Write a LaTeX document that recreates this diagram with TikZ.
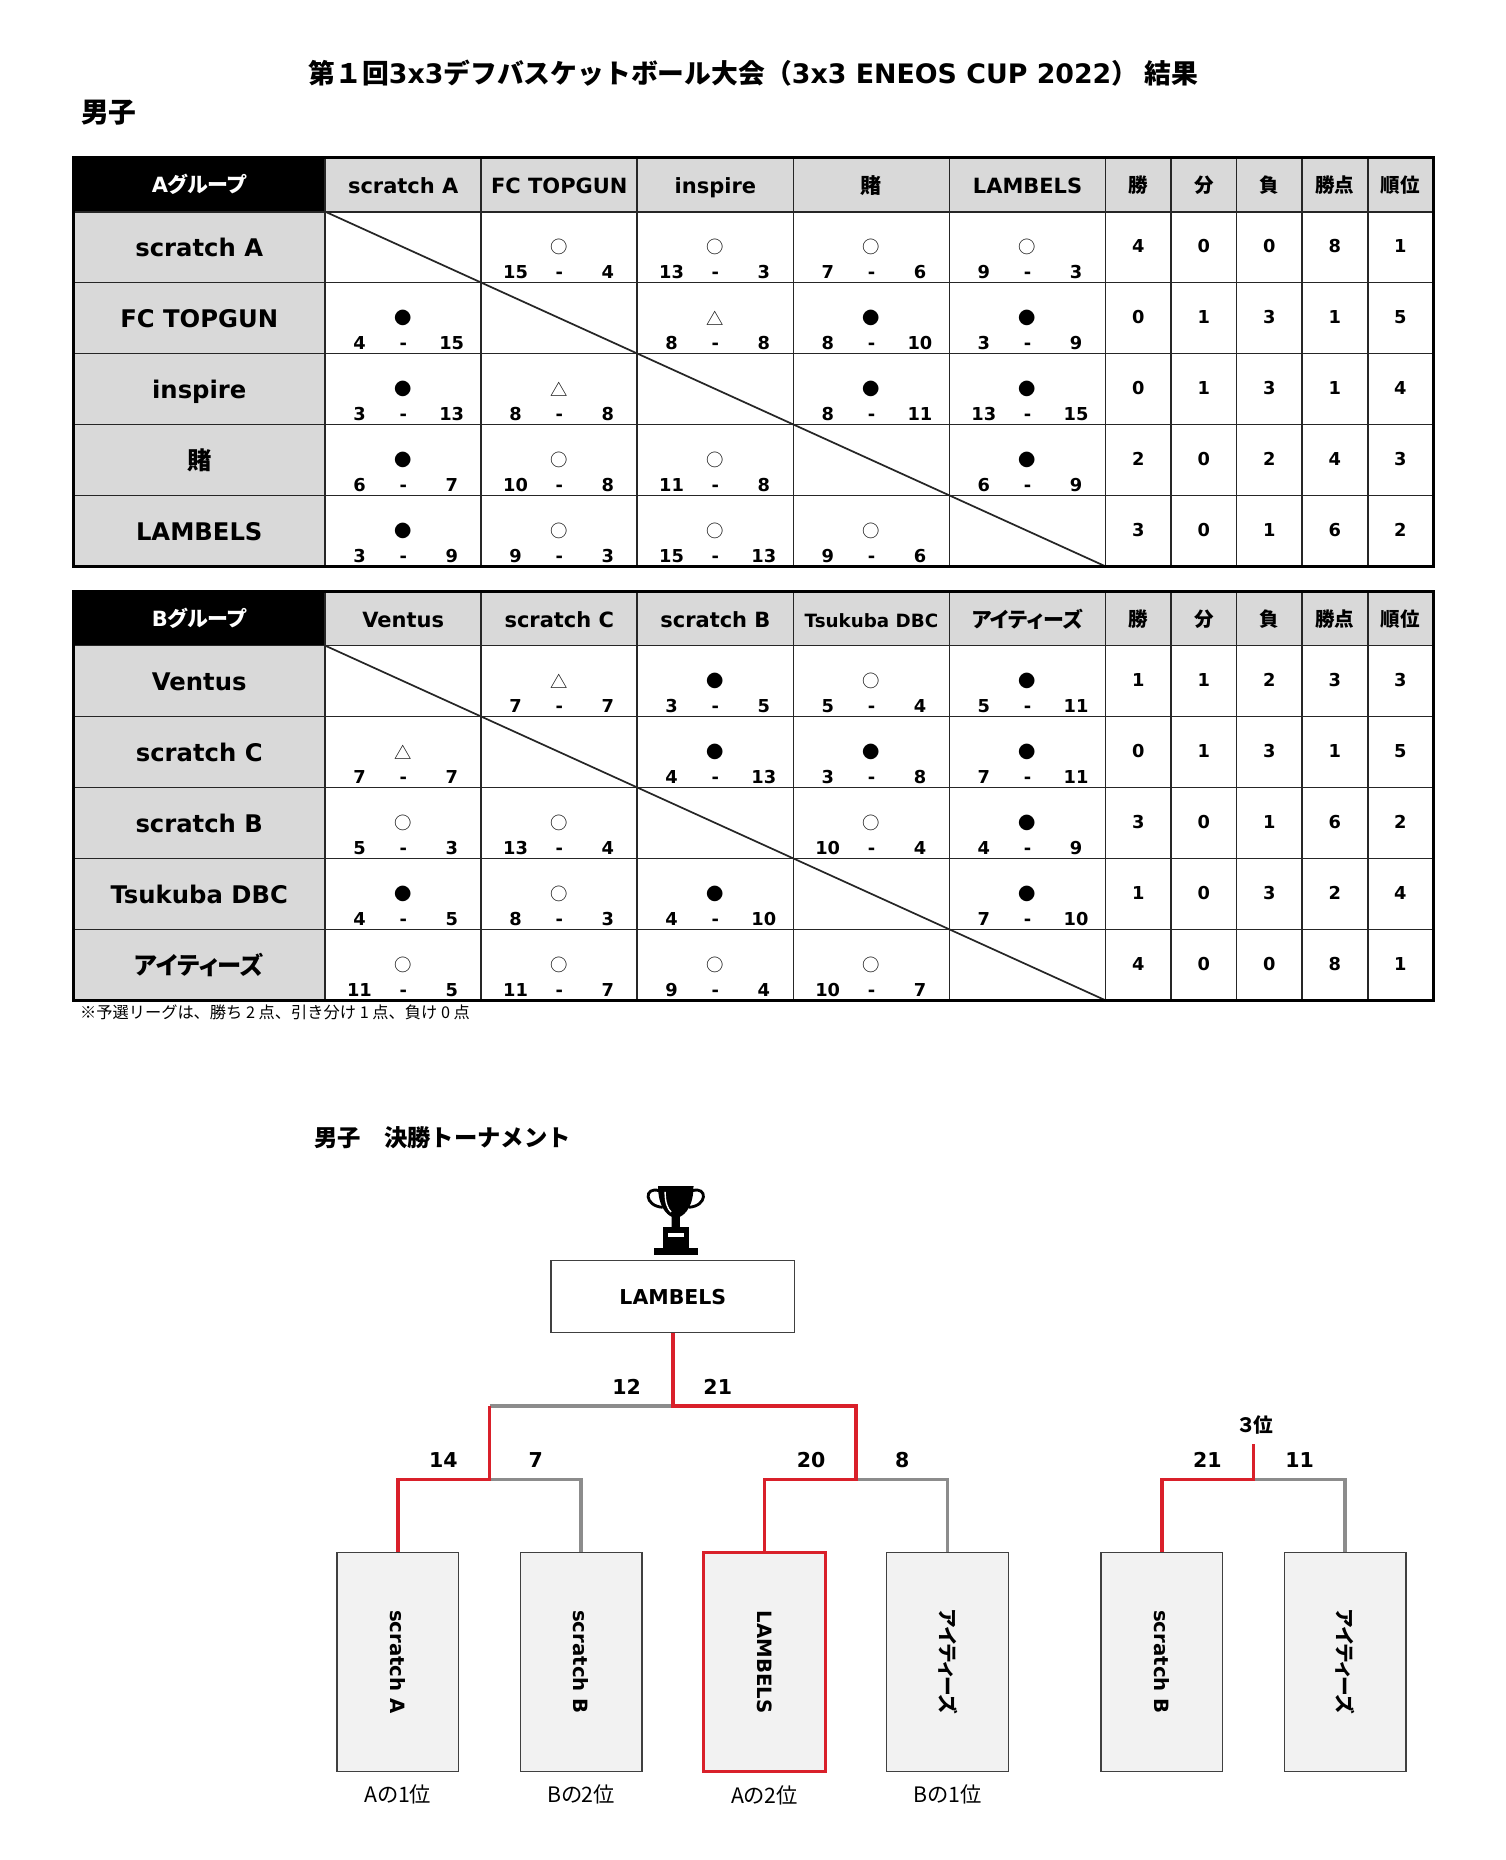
\documentclass[tikz,border=0pt]{standalone}
\usepackage{fontspec}
\setmainfont{DejaVu Sans}
\newfontfamily\jp{Noto Sans CJK JP}[RawFeature=+palt]
\newfontfamily\jpf{Noto Sans CJK JP}
\usetikzlibrary{positioning}
\definecolor{cellgray}{HTML}{D9D9D9}
\definecolor{boxgray}{HTML}{F2F2F2}
\definecolor{winred}{HTML}{D9202A}
\definecolor{losegray}{HTML}{8C8C8C}
\definecolor{framegray}{HTML}{404040}
\tikzset{
  teamname/.style={font=\bfseries\fontsize{15.4}{16}\selectfont, text height=0.73em, text depth=0pt},
  headname/.style={font=\bfseries\fontsize{13.3}{14}\selectfont, text height=0.73em, text depth=0pt},
  statname/.style={font=\jp\bfseries\fontsize{12.4}{13}\selectfont},
  scorenum/.style={font=\bfseries\fontsize{11.3}{12}\selectfont, text height=0.73em, text depth=0pt},
  resmark/.style={font=\jp\fontsize{11}{12}\selectfont},
  gridline/.style={draw=black!85, line width=1.1pt},
  frameline/.style={draw=black, line width=2pt},
  qbox/.style={draw=framegray, fill=boxgray, line width=0.8pt, minimum width=77.25pt,
    minimum height=138.75pt, inner sep=0pt, font=\bfseries\fontsize{12.5}{13}\selectfont},
  winline/.style={draw=winred, line width=2.2pt},
  loseline/.style={draw=losegray, line width=2.2pt},
  ptlabel/.style={font=\bfseries\fontsize{13}{13}\selectfont},
  seedlabel/.style={font=\jp\fontsize{13.5}{14}\selectfont, inner sep=1pt},
}

\begin{document}
\begin{tikzpicture}[x=0.75pt, y=-0.75pt]
\useasboundingbox (0,0) rectangle (1273,1573);

\node[font=\bfseries\fontsize{17}{17}\selectfont] (title) at (637,62)
  {{\jpf 第１回}3x3{\jpf デフバスケットボール大会（}3x3 ENEOS CUP 2022{\jpf ） 結果}};
\node[anchor=west, font=\jpf\bfseries\fontsize{17.6}{18}\selectfont] (men) at (64,95) {男子};

% league tables
\foreach \t in {133,500} {
  \fill[cellgray] (62,\t) rectangle (1212,{\t+346});
  \fill[white] (275,{\t+46}) rectangle (1212,{\t+346});
  \fill[black] (62,\t) rectangle (275,{\t+46});
  \foreach \x in {275,407,539,671,803,935,990.4,1045.8,1101.2,1156.6}
    \draw[gridline] (\x,\t) -- (\x,{\t+346});
  \foreach \i in {0,...,4}
    \draw[gridline] (62,{\t+46+60*\i}) -- (1212,{\t+46+60*\i});
  \draw[gridline] (275,{\t+46}) -- (935,{\t+346});
  \draw[frameline] (62,\t) rectangle (1212,{\t+346});
}

\foreach \g/\t/\heads/\names in {
  A/133/{scratch A,FC TOPGUN,inspire,\jp 賭,LAMBELS}/{scratch A,FC TOPGUN,inspire,\jp 賭,LAMBELS},
  B/500/{Ventus,scratch C,scratch B,\fontsize{11.6}{12}\selectfont Tsukuba DBC,\jp アイティーズ}/{Ventus,scratch C,scratch B,Tsukuba DBC,\jp アイティーズ}} {
  \node[headname, text=white] (\g-grp) at (168.5,{\t+25}) {\g{\jp グループ}};
  \foreach \n [count=\i] in \heads
    \node[headname] (\g-h\i) at ({209+132*\i},{\t+25.5}) {\n};
  \foreach \n [count=\i] in \names
    \node[teamname] (\g-n\i) at (168.5,{\t+19+60*\i}) {\n};
  \foreach \s [count=\k] in {勝,分,負,勝点,順位}
    \node[statname] (\g-s\k) at ({907.3+55.4*\k},{\t+23.5}) {\s};
}

% match results
\foreach \g/\t/\cells in {
  A/179/{1/2/○/15/4,1/3/○/13/3,1/4/○/7/6,1/5/○/9/3,
         2/1/●/4/15,2/3/△/8/8,2/4/●/8/10,2/5/●/3/9,
         3/1/●/3/13,3/2/△/8/8,3/4/●/8/11,3/5/●/13/15,
         4/1/●/6/7,4/2/○/10/8,4/3/○/11/8,4/5/●/6/9,
         5/1/●/3/9,5/2/○/9/3,5/3/○/15/13,5/4/○/9/6},
  B/546/{1/2/△/7/7,1/3/●/3/5,1/4/○/5/4,1/5/●/5/11,
         2/1/△/7/7,2/3/●/4/13,2/4/●/3/8,2/5/●/7/11,
         3/1/○/5/3,3/2/○/13/4,3/4/○/10/4,3/5/●/4/9,
         4/1/●/4/5,4/2/○/8/3,4/3/●/4/10,4/5/●/7/10,
         5/1/○/11/5,5/2/○/11/7,5/3/○/9/4,5/4/○/10/7}} {
  \foreach \ro/\co/\sy/\sa/\sb in \cells {
    \node[resmark] (\g-\ro-\co-m) at ({209+132*\co},{\t-30+60*\ro}) {\sy};
    \node[scorenum] (\g-\ro-\co-l) at ({172+132*\co},{\t-8+60*\ro}) {\sa};
    \node[scorenum] (\g-\ro-\co-d) at ({209+132*\co},{\t-8+60*\ro}) {-};
    \node[scorenum] (\g-\ro-\co-r) at ({250+132*\co},{\t-8+60*\ro}) {\sb};
  }
}

% standings
\foreach \g/\t/\rows in {
  A/179/{{4,0,0,8,1},{0,1,3,1,5},{0,1,3,1,4},{2,0,2,4,3},{3,0,1,6,2}},
  B/546/{{1,1,2,3,3},{0,1,3,1,5},{3,0,1,6,2},{1,0,3,2,4},{4,0,0,8,1}}} {
  \foreach \vals [count=\ro] in \rows
    \foreach \v [count=\k] in \vals
      \node[scorenum] (\g-\ro-st\k) at ({907.3+55.4*\k},{\t-30+60*\ro}) {\v};
}

\node[anchor=west, font=\jpf\fontsize{10.3}{11}\selectfont] (note) at (63,856)
  {※予選リーグは、勝ち 2 点、引き分け 1 点、負け 0 点};

% final tournament
\node[anchor=west, font=\jpf\bfseries\fontsize{14.8}{15}\selectfont] (ttl2) at (261,962) {男子　決勝トーナメント};

\begin{scope}[shift={(571.5,1032)}]
  \fill (-15,-29) -- (15,-29) .. controls (15,-12) and (8,-5) .. (3.5,-3) -- (3.5,6)
    -- (-3.5,6) -- (-3.5,-3) .. controls (-8,-5) and (-15,-12) .. cycle;
  \draw[line width=1.8pt] (-14,-25) .. controls (-27,-29) and (-27,-12) .. (-11,-11);
  \draw[line width=1.8pt] (14,-25) .. controls (27,-29) and (27,-12) .. (11,-11);
  \draw[white, line width=0.9pt] (-9,-24) .. controls (-9,-15) and (-7,-10) .. (-4,-7);
  \fill (-11,6) rectangle (11,23);
  \fill[white] (-7,10.5) rectangle (7,14.5);
  \fill (-18.5,23) rectangle (18.5,29);
\end{scope}

\node[draw=framegray, line width=0.8pt, minimum width=154.5pt, minimum height=45.75pt,
  font=\bfseries\fontsize{13}{13}\selectfont] (champ) at (569,1096.5) {LAMBELS};

\node[qbox] (qa) at (336.5,1405.5) {\rotatebox{-90}{scratch A}};
\node[qbox] (qb) at (491.5,1405.5) {\rotatebox{-90}{scratch B}};
\node[qbox, draw=winred, line width=2.2pt] (qc) at (646.5,1405.5) {\rotatebox{-90}{LAMBELS}};
\node[qbox] (qd) at (801.5,1405.5) {\rotatebox{-90}{\jp アイティーズ}};
\node[qbox] (tb) at (982.5,1405.5) {\rotatebox{-90}{scratch B}};
\node[qbox] (td) at (1137.5,1405.5) {\rotatebox{-90}{\jp アイティーズ}};

\node[seedlabel, below=7pt of qa] (la) {Aの1位};
\node[seedlabel, below=7pt of qb] (lb) {Bの2位};
\node[seedlabel, below=7pt of qc] (lc) {Aの2位};
\node[seedlabel, below=7pt of qd] (ld) {Bの1位};

\coordinate (sl) at (414,1251);
\coordinate (sr) at (724,1251);
\coordinate (fl) at (414,1189);
\coordinate (fm) at (569,1189);
\coordinate (fr) at (724,1189);
\coordinate (tm) at (1060,1251);
\coordinate (tt) at (1060,1221);

\draw[loseline] (qb.north) |- (sl);
\draw[loseline] (qd.north) |- (sr);
\draw[loseline] (fl) -- (fm);
\draw[loseline] (td.north) |- (tm);
\draw[winline] (qa.north) |- (sl) -- (fl);
\draw[winline] (qc.north) |- (sr) -- (fr) -- (fm) -- (champ.south);
\draw[winline] (tb.north) |- (tm) -- (tt);

\node[ptlabel] (p12) at (530,1173) {12};
\node[ptlabel] (p21) at (607,1173) {21};
\node[ptlabel] (p14) at (375,1235) {14};
\node[ptlabel] (p7) at (453,1235) {7};
\node[ptlabel] (p20) at (686,1235) {20};
\node[ptlabel] (p8) at (763,1235) {8};
\node[ptlabel] (p21b) at (1021,1235) {21};
\node[ptlabel] (p11) at (1099,1235) {11};
\node[ptlabel, font=\jp\bfseries\fontsize{12.5}{13}\selectfont] (third) at (1062,1205) {３位};
\end{tikzpicture}
\end{document}
